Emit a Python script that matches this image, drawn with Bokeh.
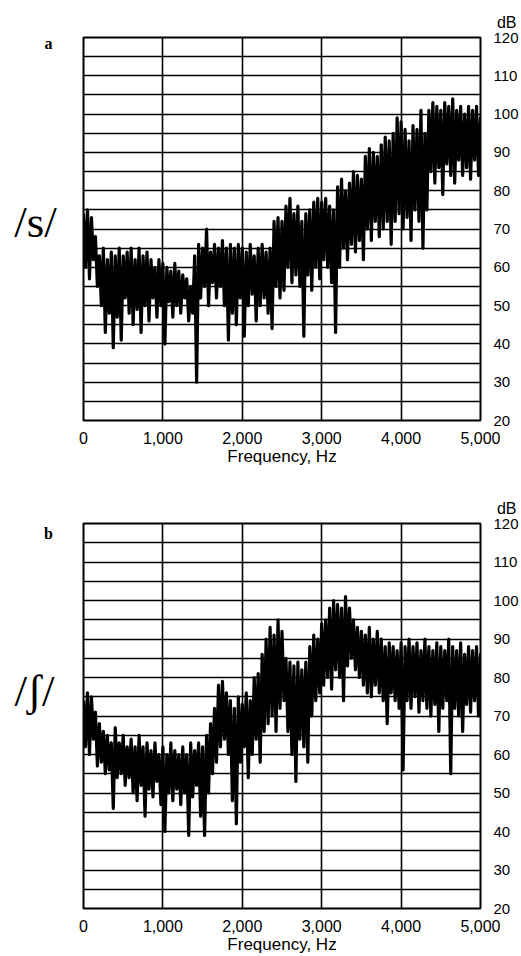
from bokeh.plotting import figure
from bokeh.models import Range1d, FixedTicker, NumeralTickFormatter
from bokeh.layouts import column, row
from bokeh.core.properties import value
from bokeh.embed import file_html
from bokeh.resources import INLINE

# Frequency grid of the read-off spectra (Hz), one upper and one lower excursion per step
freq = list(range(0, 5001, 50))

# Panel a: /s/  (dB)
s_hi = [74, 75, 73, 68, 63, 65, 62, 64, 63, 65, 63, 64, 65, 62, 65, 63, 64, 62, 60, 62,
        61, 60, 59, 61, 59, 58, 57, 55, 63, 66, 65, 70, 64, 66, 65, 67, 65, 66, 65, 66,
        65, 64, 66, 63, 65, 66, 64, 65, 72, 73, 72, 76, 78, 74, 76, 72, 74, 75, 77, 78,
        77, 78, 76, 75, 81, 83, 80, 82, 85, 84, 83, 89, 91, 90, 89, 92, 94, 93, 95, 99,
        98, 96, 93, 97, 96, 101, 95, 101, 103, 102, 101, 103, 102, 104, 101, 102, 100, 102, 101, 102,
        99]
s_lo = [60, 57, 62, 55, 50, 43, 48, 39, 47, 41, 52, 48, 45, 49, 43, 50, 46, 52, 47, 50,
        40, 51, 47, 50, 48, 52, 46, 48, 30, 52, 55, 50, 56, 52, 55, 50, 41, 48, 45, 52,
        42, 50, 53, 46, 50, 52, 48, 44, 55, 52, 54, 60, 56, 58, 55, 42, 58, 54, 60, 57,
        62, 60, 56, 43, 60, 65, 62, 66, 64, 67, 62, 70, 67, 72, 68, 70, 72, 66, 72, 74,
        70, 73, 67, 75, 72, 65, 75, 85, 82, 86, 79, 87, 84, 82, 88, 84, 86, 83, 88, 84,
        85]

# Panel b: /ʃ/  (dB)
sh_hi = [74, 76, 75, 71, 68, 66, 65, 63, 67, 63, 65, 62, 64, 62, 65, 62, 63, 61, 63, 60,
         62, 60, 63, 61, 60, 62, 60, 63, 61, 63, 62, 65, 68, 72, 78, 79, 76, 74, 72, 75,
         73, 76, 74, 80, 81, 86, 90, 93, 91, 95, 92, 85, 84, 83, 84, 82, 84, 88, 91, 90,
         94, 95, 98, 100, 99, 98, 101, 98, 95, 93, 92, 91, 93, 90, 92, 90, 88, 89, 88, 87,
         89, 88, 90, 88, 89, 87, 90, 88, 87, 89, 88, 87, 90, 88, 87, 89, 86, 88, 87, 88,
         86]
sh_lo = [62, 60, 64, 57, 58, 55, 56, 46, 54, 55, 52, 54, 50, 48, 52, 44, 51, 49, 53, 47,
         40, 50, 48, 51, 47, 50, 39, 49, 52, 44, 39, 50, 55, 58, 62, 64, 60, 48, 42, 58,
         62, 54, 60, 64, 58, 66, 68, 70, 66, 72, 74, 66, 60, 53, 64, 62, 58, 70, 74, 76,
         78, 80, 77, 82, 80, 74, 83, 85, 82, 80, 78, 76, 75, 78, 76, 74, 68, 76, 74, 72,
         56, 74, 72, 75, 71, 74, 72, 70, 73, 66, 72, 74, 55, 72, 70, 66, 73, 71, 74, 70,
         72]

db_ticks = [20, 30, 40, 50, 60, 70, 80, 90, 100, 110, 120]
freq_ticks = [0, 1000, 2000, 3000, 4000, 5000]
panel_letters = ["a", "b"]
phonemes = ["/s/", "/\u0283/"]

FONT = "Liberation Sans"
SERIF = "Liberation Serif"
FIG_H = 478
SIDE_W = 66          # narrow figure holding the panel letter and phoneme
GAP = 83 - SIDE_W    # left border of the chart figure


def side(letter, letter_y, phon, phon_x, phon_y, top, bottom):
    q = figure(width=SIDE_W, height=FIG_H, output_backend="svg", toolbar_location=None,
               x_range=Range1d(0, SIDE_W), y_range=Range1d(20, 120),
               min_border_left=0, min_border_right=0,
               min_border_top=top, min_border_bottom=bottom)
    q.axis.visible = False
    q.grid.visible = False
    q.outline_line_color = None
    q.background_fill_color = "white"
    q.border_fill_color = "white"
    q.text(x=[48], y=[letter_y], text=[letter], text_align="center",
           text_baseline="middle", text_font=value(SERIF), text_font_style="bold",
           text_font_size="16px", text_color="black")
    q.text(x=[phon_x], y=[phon_y], text=[phon], text_align="center",
           text_baseline="middle", text_font=value(SERIF),
           text_font_size="45px", text_color="black")
    return q


def panel(hi, lo, top, bottom):
    p = figure(width=521 - SIDE_W, height=FIG_H, output_backend="svg", toolbar_location=None,
               x_range=Range1d(0, 5000), y_range=Range1d(20, 120),
               min_border_left=GAP, min_border_right=37,
               min_border_top=top, min_border_bottom=bottom,
               x_axis_location="below", y_axis_location="right")
    p.background_fill_color = "white"
    p.border_fill_color = "white"
    p.outline_line_color = "black"
    p.outline_line_width = 2

    p.title.text = "dB"
    p.title.align = "right"
    p.title.offset = -36
    p.title.standoff = 13
    p.title.text_font = FONT
    p.title.text_font_size = "16px"
    p.title.text_font_style = "normal"
    p.title.text_color = "black"

    p.xgrid.ticker = FixedTicker(ticks=freq_ticks)
    p.ygrid.ticker = FixedTicker(ticks=list(range(20, 121, 5)))
    for g in (p.xgrid, p.ygrid):
        g.grid_line_color = "black"
        g.grid_line_width = 1.6
        g.grid_line_alpha = 1.0

    xa = p.xaxis[0]
    xa.ticker = FixedTicker(ticks=freq_ticks)
    xa.formatter = NumeralTickFormatter(format="0,0")
    xa.axis_line_color = None
    xa.major_tick_line_color = None
    xa.minor_tick_line_color = None
    xa.major_label_text_font = FONT
    xa.major_label_text_font_size = "16px"
    xa.major_label_text_color = "black"
    xa.major_label_standoff = 5
    xa.axis_label = "Frequency, Hz"
    xa.axis_label_text_font = FONT
    xa.axis_label_text_font_size = "17px"
    xa.axis_label_text_font_style = "normal"
    xa.axis_label_text_color = "black"
    xa.axis_label_standoff = 0

    ya = p.yaxis[0]
    ya.ticker = FixedTicker(ticks=db_ticks)
    ya.axis_line_color = None
    ya.major_tick_line_color = None
    ya.minor_tick_line_color = None
    ya.major_label_text_font = FONT
    ya.major_label_text_font_size = "15px"
    ya.major_label_text_color = "black"
    ya.major_label_standoff = 7

    # spectrum trace: alternating upper / lower excursions
    xs, ys = [], []
    for f, h, l in zip(freq, hi, lo):
        xs += [f, f + 25]
        ys += [h, l]
    p.line(xs, ys, line_color="black", line_width=3.2, line_join="round")
    return p


s1 = side(panel_letters[0], 118.4, phonemes[0], 35, 71.7, 37, 58)
p1 = panel(s_hi, s_lo, 37, 58)
s2 = side(panel_letters[1], 117.4, phonemes[1], 34, 76.6, 45, 48)
p2 = panel(sh_hi, sh_lo, 45, 48)

layout = column(row(s1, p1, spacing=0), row(s2, p2, spacing=0), spacing=0)
open("out.html", "w").write(file_html(layout, INLINE))
